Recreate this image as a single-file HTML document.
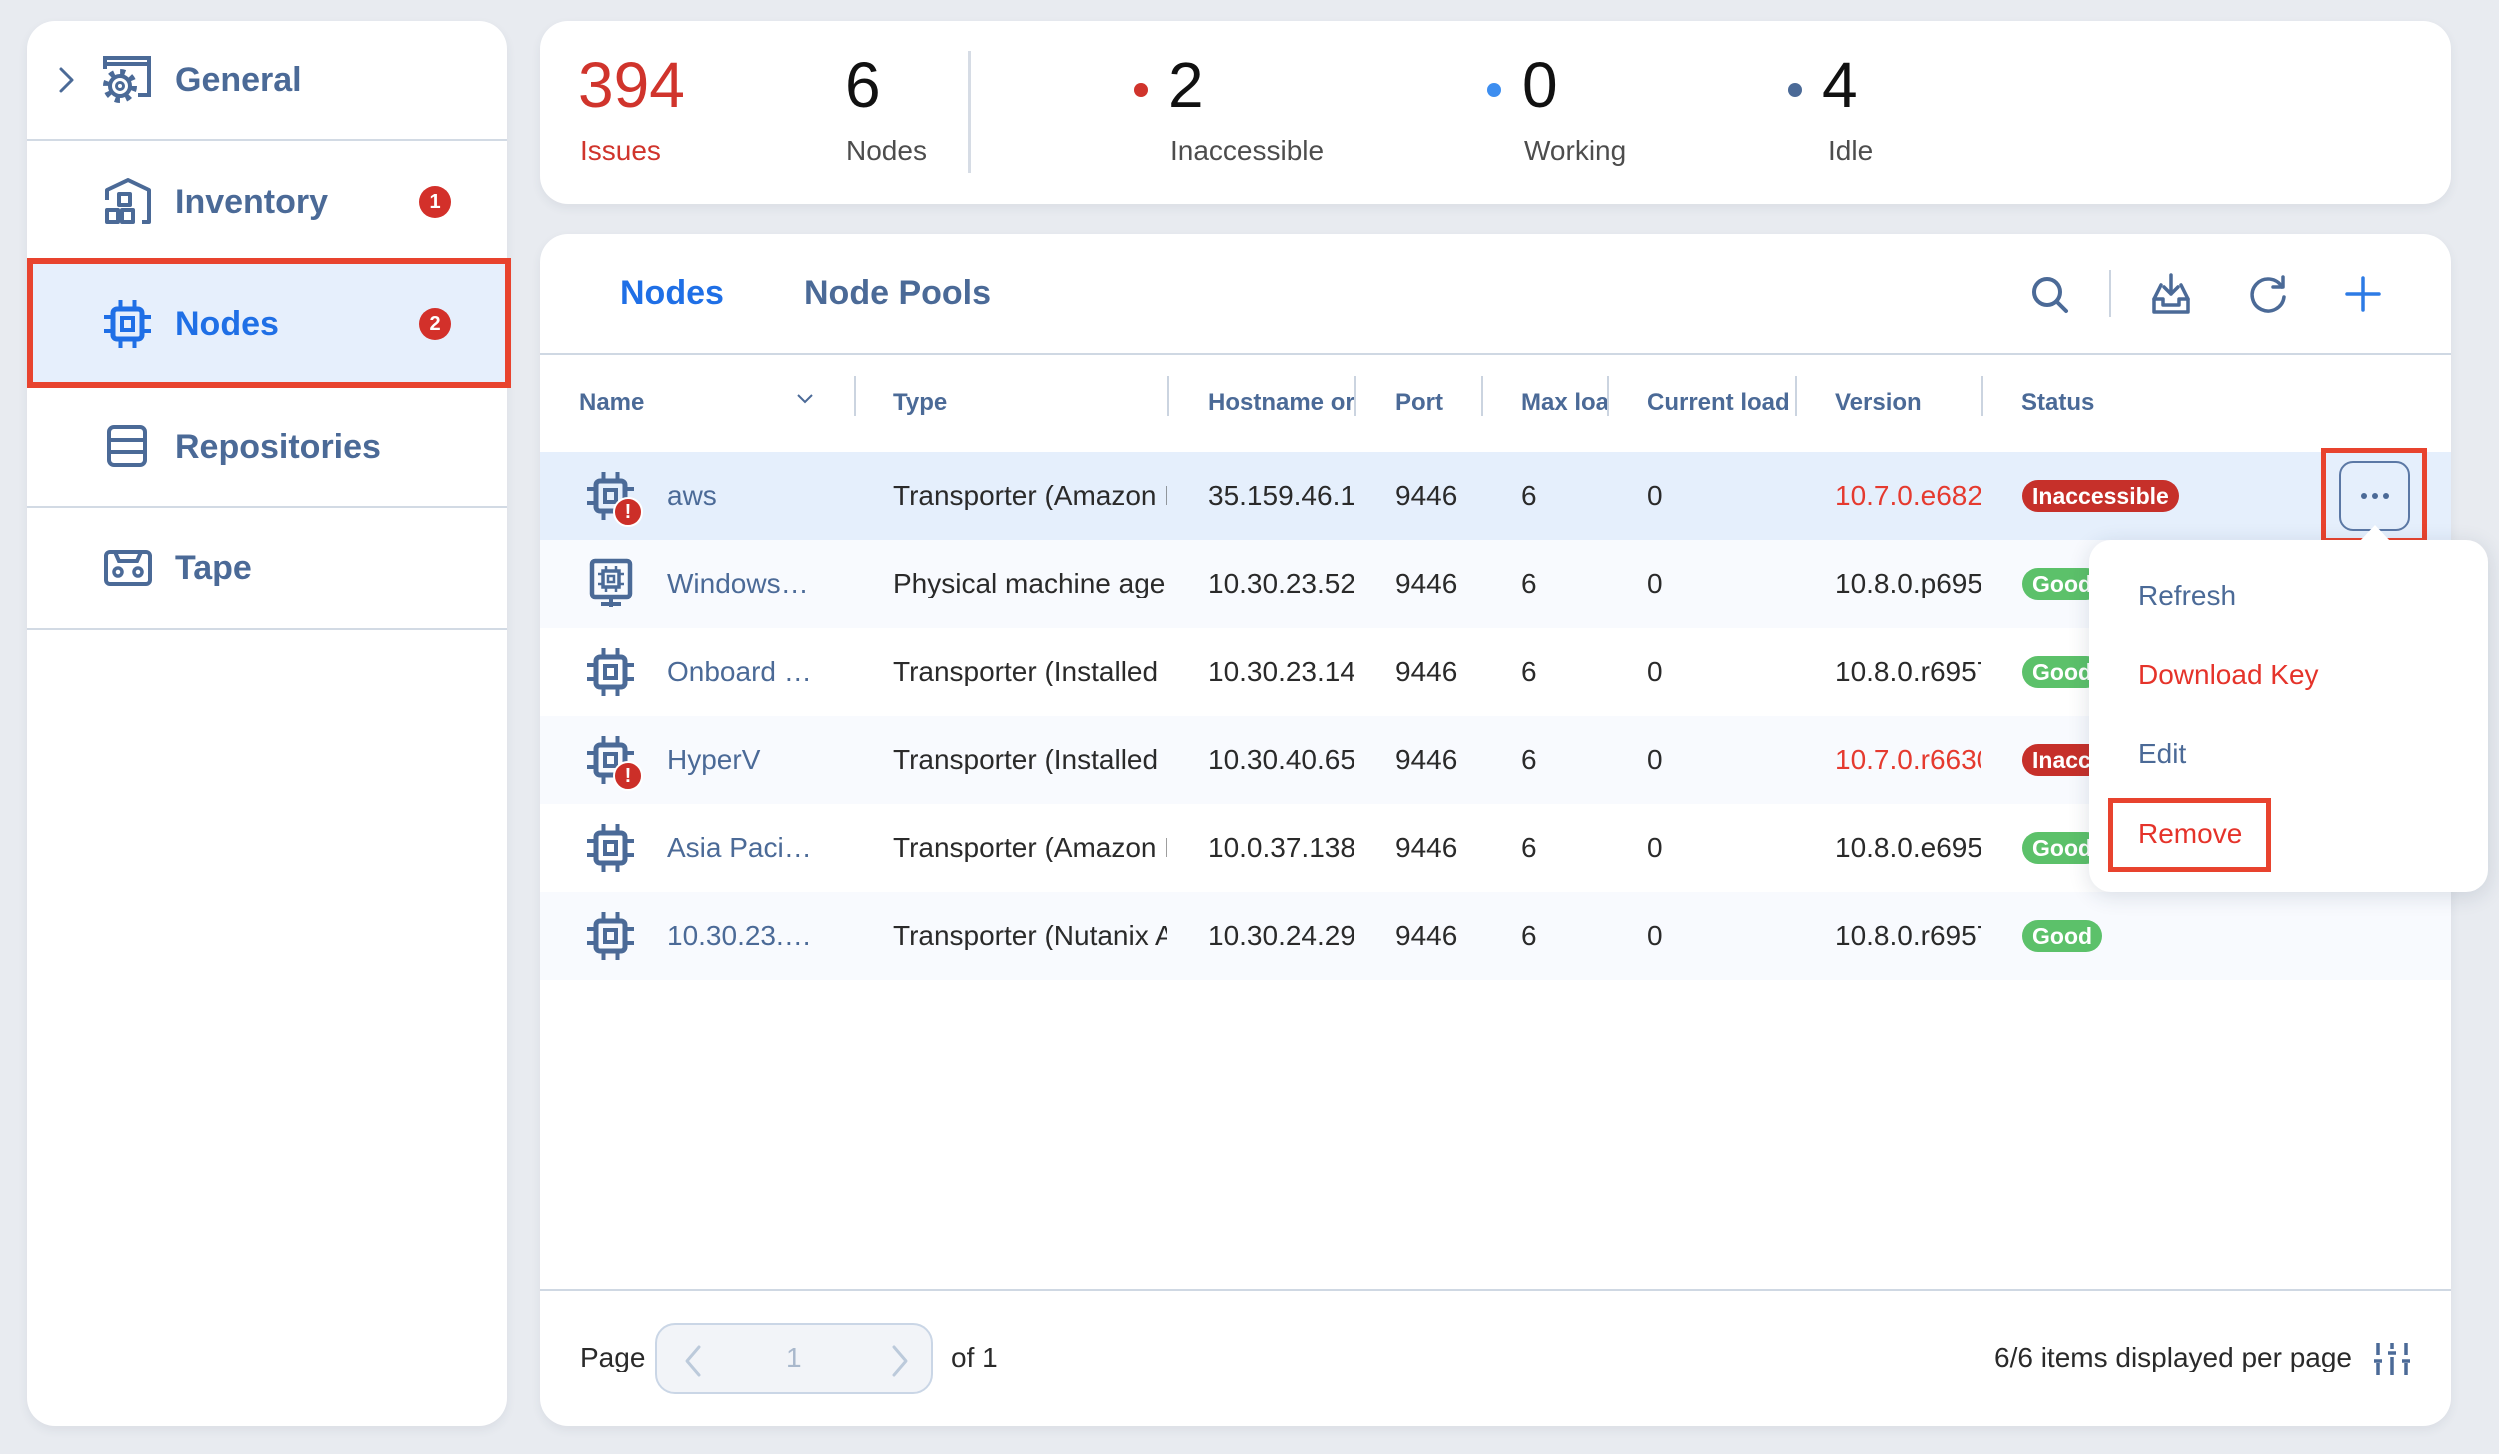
<!DOCTYPE html>
<html><head><meta charset="utf-8">
<style>
*{margin:0;padding:0;box-sizing:border-box}
html,body{width:2499px;height:1454px}
body{background:#e8ebf0;font-family:"Liberation Sans",Arial,sans-serif;position:relative;overflow:hidden}
.a{position:absolute;white-space:nowrap;line-height:1}
.card{position:absolute;background:#fff;border-radius:28px;box-shadow:0 4px 10px rgba(40,60,90,0.07)}
.hr{position:absolute;height:2px;background:#d2dae4}
.side{font-size:34px;font-weight:bold;color:#4b6a97;left:175px}
.badge{position:absolute;width:32px;height:32px;border-radius:50%;background:#d3302a;color:#fff;font-weight:bold;font-size:20px;line-height:32px;text-align:center}
.num{font-size:64px;color:#111}
.lbl{font-size:28px;color:#4d4d4d}
.dot{position:absolute;width:14px;height:14px;border-radius:50%}
.th{font-size:24px;font-weight:bold;color:#4b6a97;overflow:hidden}
.sep{position:absolute;width:2px;height:40px;top:376px;background:#cbd4e0}
.row{position:absolute;left:540px;width:1911px;height:88px}
.td{font-size:28px;color:#2a2a2a;overflow:hidden}
.nm{font-size:28px;color:#4b6a97}
.pill{position:absolute;height:32px;border-radius:16px;color:#fff;font-weight:bold;font-size:23px;line-height:32px;padding:0 10px;white-space:nowrap}
.bad{background:#c6302a}
.good{background:#5cc16a}
.err{position:absolute;width:30px;height:30px;border-radius:50%;background:#cc2f28;border:2px solid #fff;color:#fff;font-weight:bold;font-size:20px;line-height:26px;text-align:center}
.mi{font-size:28px;left:2138px}
</style></head><body>

<!-- Sidebar -->
<div class="card" style="left:27px;top:21px;width:480px;height:1405px"></div>
<div class="hr" style="left:27px;width:480px;top:139px"></div>
<div class="hr" style="left:27px;width:480px;top:261px"></div>
<div class="hr" style="left:27px;width:480px;top:384px"></div>
<div class="hr" style="left:27px;width:480px;top:506px"></div>
<div class="hr" style="left:27px;width:480px;top:628px"></div>
<div style="position:absolute;left:27px;top:258px;width:484px;height:130px;background:#e6effc;border:6px solid #e8432e"></div>

<svg class="a" style="left:58px;top:66px" width="18" height="28" viewBox="0 0 18 28"><path d="M3 3 L14 14 L3 25" fill="none" stroke="#4b6a97" stroke-width="3" stroke-linecap="round" stroke-linejoin="round"/></svg>
<svg class="a" style="left:102px;top:55px" width="50" height="50" viewBox="0 0 50 50" fill="none" stroke="#4b6a97" stroke-width="4"><path d="M3 14 V3 H47 V40 H36"/><path d="M3 9 H47"/><circle cx="18" cy="31" r="14" stroke-dasharray="5 6" stroke-width="6"/><circle cx="18" cy="31" r="10" stroke-width="4"/><circle cx="18" cy="31" r="3.5" stroke-width="3"/></svg>
<div class="a side" style="top:63px">General</div>

<svg class="a" style="left:104px;top:178px" width="48" height="48" viewBox="0 0 48 48" fill="none" stroke="#4b6a97" stroke-width="4" stroke-linejoin="round"><path d="M3 22 V12 L24 2 L45 12 V44 H38"/><rect x="15" y="16" width="11" height="11"/><rect x="3" y="32" width="11" height="12"/><rect x="18" y="32" width="11" height="12"/></svg>
<div class="a side" style="top:185px">Inventory</div>
<div class="badge" style="left:419px;top:186px">1</div>

<svg class="a" style="left:104px;top:300px" width="48" height="48" viewBox="0 0 48 48" fill="none" stroke="#1f6fe6"><rect x="9" y="9" width="29" height="30" rx="4" stroke-width="5"/><rect x="18" y="18" width="11" height="12" stroke-width="4"/><path d="M16.5 0v7M30.5 0v7M16.5 41v7M30.5 41v7M0 17h7M0 31h7M40 17h7M40 31h7" stroke-width="4"/></svg>
<div class="a side" style="top:307px;color:#1f6fe6">Nodes</div>
<div class="badge" style="left:419px;top:308px">2</div>

<svg class="a" style="left:106px;top:424px" width="42" height="44" viewBox="0 0 42 44" fill="none" stroke="#4b6a97" stroke-width="4"><rect x="3" y="3" width="36" height="38" rx="5"/><path d="M3 16 H39 M3 28 H39"/></svg>
<div class="a side" style="top:430px">Repositories</div>

<svg class="a" style="left:103px;top:549px" width="50" height="38" viewBox="0 0 50 38" fill="none" stroke="#4b6a97" stroke-width="4"><rect x="3" y="3" width="44" height="32" rx="4"/><path d="M12 3 L16 12 H34 L38 3"/><circle cx="15" cy="23" r="4" stroke-width="3.5"/><circle cx="35" cy="23" r="4" stroke-width="3.5"/></svg>
<div class="a side" style="top:551px">Tape</div>

<!-- Stats card -->
<div class="card" style="left:540px;top:21px;width:1911px;height:183px"></div>
<div class="a num" style="left:578px;top:53px;color:#d0342c">394</div>
<div class="a lbl" style="left:580px;top:137px;color:#d0342c">Issues</div>
<div class="a num" style="left:845px;top:53px">6</div>
<div class="a lbl" style="left:846px;top:137px">Nodes</div>
<div style="position:absolute;left:968px;top:51px;width:3px;height:122px;background:#d6dce5"></div>
<div class="dot" style="left:1134px;top:83px;background:#d0342c"></div>
<div class="a num" style="left:1168px;top:53px">2</div>
<div class="a lbl" style="left:1170px;top:137px">Inaccessible</div>
<div class="dot" style="left:1487px;top:83px;background:#3d8ef0"></div>
<div class="a num" style="left:1522px;top:53px">0</div>
<div class="a lbl" style="left:1524px;top:137px">Working</div>
<div class="dot" style="left:1788px;top:83px;background:#4b6a97"></div>
<div class="a num" style="left:1822px;top:53px">4</div>
<div class="a lbl" style="left:1828px;top:137px">Idle</div>

<!-- Table card -->
<div class="card" style="left:540px;top:234px;width:1911px;height:1192px"></div>
<div class="a" style="left:620px;top:276px;font-size:34px;font-weight:bold;color:#1f6fe6">Nodes</div>
<div class="a" style="left:804px;top:276px;font-size:34px;font-weight:bold;color:#4b6a97">Node Pools</div>

<svg class="a" style="left:2030px;top:275px" width="40" height="40" viewBox="0 0 40 40" fill="none" stroke="#4b6a97" stroke-width="4" stroke-linecap="round"><circle cx="17" cy="17" r="13"/><path d="M26.5 26.5 L36 36"/></svg>
<div style="position:absolute;left:2109px;top:270px;width:2px;height:47px;background:#cbd4e0"></div>
<svg class="a" style="left:2150px;top:273px" width="42" height="42" viewBox="0 0 42 42" fill="none" stroke="#4b6a97" stroke-width="3.5" stroke-linejoin="round" stroke-linecap="round"><path d="M21 2 V21 M14 14 L21 21 L28 14"/><path d="M11 12 L4 26 V39 H38 V26 L31 12"/><path d="M4 26 H13 V32 H29 V26 H38"/></svg>
<svg class="a" style="left:2247px;top:275px" width="42" height="40" viewBox="0 0 42 40" fill="none" stroke="#4b6a97" stroke-width="3.5" stroke-linecap="round" stroke-linejoin="round"><path d="M35 12 A16 16 0 1 0 37 22"/><path d="M36 2 V12 H26"/></svg>
<svg class="a" style="left:2344px;top:276px" width="38" height="36" viewBox="0 0 38 36" fill="none" stroke="#2d7be5" stroke-width="3.5" stroke-linecap="round"><path d="M19 2 V34 M3 18 H35"/></svg>

<div class="hr" style="left:540px;width:1911px;top:353px;background:#cfd8e3"></div>

<!-- header -->
<div class="a th" style="left:579px;top:391px">Name</div>
<svg class="a" style="left:796px;top:393px" width="18" height="12" viewBox="0 0 18 12"><path d="M2 2 L9 9 L16 2" fill="none" stroke="#4b6a97" stroke-width="2"/></svg>
<div class="sep" style="left:854px"></div>
<div class="a th" style="left:893px;top:391px">Type</div>
<div class="sep" style="left:1167px"></div>
<div class="a th" style="left:1208px;top:391px;width:146px">Hostname or IP</div>
<div class="sep" style="left:1354px"></div>
<div class="a th" style="left:1395px;top:391px">Port</div>
<div class="sep" style="left:1481px"></div>
<div class="a th" style="left:1521px;top:391px;width:86px">Max load</div>
<div class="sep" style="left:1607px"></div>
<div class="a th" style="left:1647px;top:391px;width:147px">Current load</div>
<div class="sep" style="left:1795px"></div>
<div class="a th" style="left:1835px;top:391px">Version</div>
<div class="sep" style="left:1981px"></div>
<div class="a th" style="left:2021px;top:391px">Status</div>

<!-- rows -->
<div class="row" style="top:452px;background:#e5effc"></div>
<div class="row" style="top:540px;background:#f8fafe"></div>
<div class="row" style="top:716px;background:#f8fafe"></div>
<div class="row" style="top:892px;background:#f8fafe"></div>

<!-- row 1 -->
<svg class="a" style="left:587px;top:472px" width="48" height="48" viewBox="0 0 48 48" fill="none" stroke="#4b6a97"><rect x="9" y="9" width="29" height="30" rx="4" stroke-width="5"/><rect x="18" y="18" width="11" height="12" stroke-width="4"/><path d="M16.5 0v7M30.5 0v7M16.5 41v7M30.5 41v7M0 17h7M0 31h7M40 17h7M40 31h7" stroke-width="4"/></svg>
<div class="err" style="left:613px;top:497px">!</div>
<div class="a nm" style="left:667px;top:482px">aws</div>
<div class="a td" style="left:893px;top:482px;width:274px">Transporter (Amazon EC2)</div>
<div class="a td" style="left:1208px;top:482px;width:146px">35.159.46.1</div>
<div class="a td" style="left:1395px;top:482px">9446</div>
<div class="a td" style="left:1521px;top:482px">6</div>
<div class="a td" style="left:1647px;top:482px">0</div>
<div class="a td" style="left:1835px;top:482px;width:146px;color:#e53a2f">10.7.0.e682</div>
<div class="pill bad" style="left:2022px;top:480px">Inaccessible</div>

<!-- row 2 -->
<svg class="a" style="left:588px;top:558px" width="46" height="52" viewBox="0 0 46 52" fill="none" stroke="#4b6a97"><rect x="4" y="3" width="38" height="36" rx="3" stroke-width="4.5"/><rect x="15" y="13" width="16" height="16" stroke-width="3.5"/><rect x="20" y="18" width="6" height="6" stroke-width="2.5"/><path d="M18 8v4M28 8v4M18 30v4M28 30v4M10 16h4M10 26h4M32 16h4M32 26h4" stroke-width="2.5"/><path d="M23 39 V49 M13 46 H33" stroke-width="4"/></svg>
<div class="a nm" style="left:667px;top:570px">Windows…</div>
<div class="a td" style="left:893px;top:570px;width:274px">Physical machine agent</div>
<div class="a td" style="left:1208px;top:570px;width:146px">10.30.23.52</div>
<div class="a td" style="left:1395px;top:570px">9446</div>
<div class="a td" style="left:1521px;top:570px">6</div>
<div class="a td" style="left:1647px;top:570px">0</div>
<div class="a td" style="left:1835px;top:570px;width:146px">10.8.0.p6951</div>
<div class="pill good" style="left:2022px;top:568px">Good</div>

<!-- row 3 -->
<svg class="a" style="left:587px;top:648px" width="48" height="48" viewBox="0 0 48 48" fill="none" stroke="#4b6a97"><rect x="9" y="9" width="29" height="30" rx="4" stroke-width="5"/><rect x="18" y="18" width="11" height="12" stroke-width="4"/><path d="M16.5 0v7M30.5 0v7M16.5 41v7M30.5 41v7M0 17h7M0 31h7M40 17h7M40 31h7" stroke-width="4"/></svg>
<div class="a nm" style="left:667px;top:658px">Onboard …</div>
<div class="a td" style="left:893px;top:658px;width:272px">Transporter (Installed on host)</div>
<div class="a td" style="left:1208px;top:658px;width:146px">10.30.23.14</div>
<div class="a td" style="left:1395px;top:658px">9446</div>
<div class="a td" style="left:1521px;top:658px">6</div>
<div class="a td" style="left:1647px;top:658px">0</div>
<div class="a td" style="left:1835px;top:658px;width:146px">10.8.0.r69571</div>
<div class="pill good" style="left:2022px;top:656px">Good</div>

<!-- row 4 -->
<svg class="a" style="left:587px;top:736px" width="48" height="48" viewBox="0 0 48 48" fill="none" stroke="#4b6a97"><rect x="9" y="9" width="29" height="30" rx="4" stroke-width="5"/><rect x="18" y="18" width="11" height="12" stroke-width="4"/><path d="M16.5 0v7M30.5 0v7M16.5 41v7M30.5 41v7M0 17h7M0 31h7M40 17h7M40 31h7" stroke-width="4"/></svg>
<div class="err" style="left:613px;top:761px">!</div>
<div class="a nm" style="left:667px;top:746px">HyperV</div>
<div class="a td" style="left:893px;top:746px;width:272px">Transporter (Installed on host)</div>
<div class="a td" style="left:1208px;top:746px;width:146px">10.30.40.65</div>
<div class="a td" style="left:1395px;top:746px">9446</div>
<div class="a td" style="left:1521px;top:746px">6</div>
<div class="a td" style="left:1647px;top:746px">0</div>
<div class="a td" style="left:1835px;top:746px;width:146px;color:#e53a2f">10.7.0.r6630</div>
<div class="pill bad" style="left:2022px;top:744px">Inaccessible</div>

<!-- row 5 -->
<svg class="a" style="left:587px;top:824px" width="48" height="48" viewBox="0 0 48 48" fill="none" stroke="#4b6a97"><rect x="9" y="9" width="29" height="30" rx="4" stroke-width="5"/><rect x="18" y="18" width="11" height="12" stroke-width="4"/><path d="M16.5 0v7M30.5 0v7M16.5 41v7M30.5 41v7M0 17h7M0 31h7M40 17h7M40 31h7" stroke-width="4"/></svg>
<div class="a nm" style="left:667px;top:834px">Asia Paci…</div>
<div class="a td" style="left:893px;top:834px;width:274px">Transporter (Amazon EC2)</div>
<div class="a td" style="left:1208px;top:834px;width:146px">10.0.37.138</div>
<div class="a td" style="left:1395px;top:834px">9446</div>
<div class="a td" style="left:1521px;top:834px">6</div>
<div class="a td" style="left:1647px;top:834px">0</div>
<div class="a td" style="left:1835px;top:834px;width:146px">10.8.0.e695</div>
<div class="pill good" style="left:2022px;top:832px">Good</div>

<!-- row 6 -->
<svg class="a" style="left:587px;top:912px" width="48" height="48" viewBox="0 0 48 48" fill="none" stroke="#4b6a97"><rect x="9" y="9" width="29" height="30" rx="4" stroke-width="5"/><rect x="18" y="18" width="11" height="12" stroke-width="4"/><path d="M16.5 0v7M30.5 0v7M16.5 41v7M30.5 41v7M0 17h7M0 31h7M40 17h7M40 31h7" stroke-width="4"/></svg>
<div class="a nm" style="left:667px;top:922px">10.30.23.…</div>
<div class="a td" style="left:893px;top:922px;width:274px">Transporter (Nutanix AHV)</div>
<div class="a td" style="left:1208px;top:922px;width:146px">10.30.24.29</div>
<div class="a td" style="left:1395px;top:922px">9446</div>
<div class="a td" style="left:1521px;top:922px">6</div>
<div class="a td" style="left:1647px;top:922px">0</div>
<div class="a td" style="left:1835px;top:922px;width:146px">10.8.0.r69571</div>
<div class="pill good" style="left:2022px;top:920px">Good</div>

<!-- more button -->
<div style="position:absolute;left:2339px;top:461px;width:71px;height:70px;border:2px solid #5b78a5;border-radius:14px"></div>
<div class="dot" style="left:2361px;top:493px;width:6px;height:6px;background:#4b6a97"></div>
<div class="dot" style="left:2372px;top:493px;width:6px;height:6px;background:#4b6a97"></div>
<div class="dot" style="left:2383px;top:493px;width:6px;height:6px;background:#4b6a97"></div>
<div style="position:absolute;left:2321px;top:448px;width:106px;height:95px;border:5px solid #e8432e"></div>

<!-- dropdown -->
<div style="position:absolute;left:2089px;top:540px;width:399px;height:352px;background:#fff;border-radius:22px;box-shadow:0 4px 22px rgba(30,50,80,0.14)"></div>
<svg class="a" style="left:2359px;top:523px" width="32" height="19" viewBox="0 0 32 19"><path d="M0 19 L16 2 L32 19 Z" fill="#fff"/></svg>
<div class="a mi" style="top:582px;color:#4b6a97">Refresh</div>
<div class="a mi" style="top:661px;color:#e5332a">Download Key</div>
<div class="a mi" style="top:740px;color:#4b6a97">Edit</div>
<div class="a mi" style="top:820px;color:#e5332a">Remove</div>
<div style="position:absolute;left:2108px;top:798px;width:163px;height:74px;border:5px solid #e8432e"></div>

<!-- footer -->
<div class="hr" style="left:540px;width:1911px;top:1289px;background:#cfd8e3"></div>
<div class="a td" style="left:580px;top:1344px">Page</div>
<div style="position:absolute;left:655px;top:1323px;width:278px;height:71px;background:#f2f4f8;border:2px solid #cad6e6;border-radius:20px"></div>
<svg class="a" style="left:682px;top:1344px" width="22" height="34" viewBox="0 0 22 34"><path d="M17 3 L5 17 L17 31" fill="none" stroke="#bccadb" stroke-width="3" stroke-linecap="round" stroke-linejoin="round"/></svg>
<div class="a" style="left:786px;top:1344px;font-size:28px;color:#a9b8cc">1</div>
<svg class="a" style="left:889px;top:1344px" width="22" height="34" viewBox="0 0 22 34"><path d="M5 3 L17 17 L5 31" fill="none" stroke="#bccadb" stroke-width="3" stroke-linecap="round" stroke-linejoin="round"/></svg>
<div class="a td" style="left:951px;top:1344px">of 1</div>
<div class="a td" style="left:1994px;top:1344px">6/6 items displayed per page</div>
<svg class="a" style="left:2374px;top:1341px" width="36" height="36" viewBox="0 0 36 36" fill="none" stroke="#4b6a97" stroke-width="3.5"><path d="M4 2 V14 M4 22 V34 M0 20 H8"/><path d="M18 2 V8 M18 16 V34 M14 12 H22"/><path d="M32 2 V14 M32 22 V34 M28 20 H36"/></svg>

</body></html>
